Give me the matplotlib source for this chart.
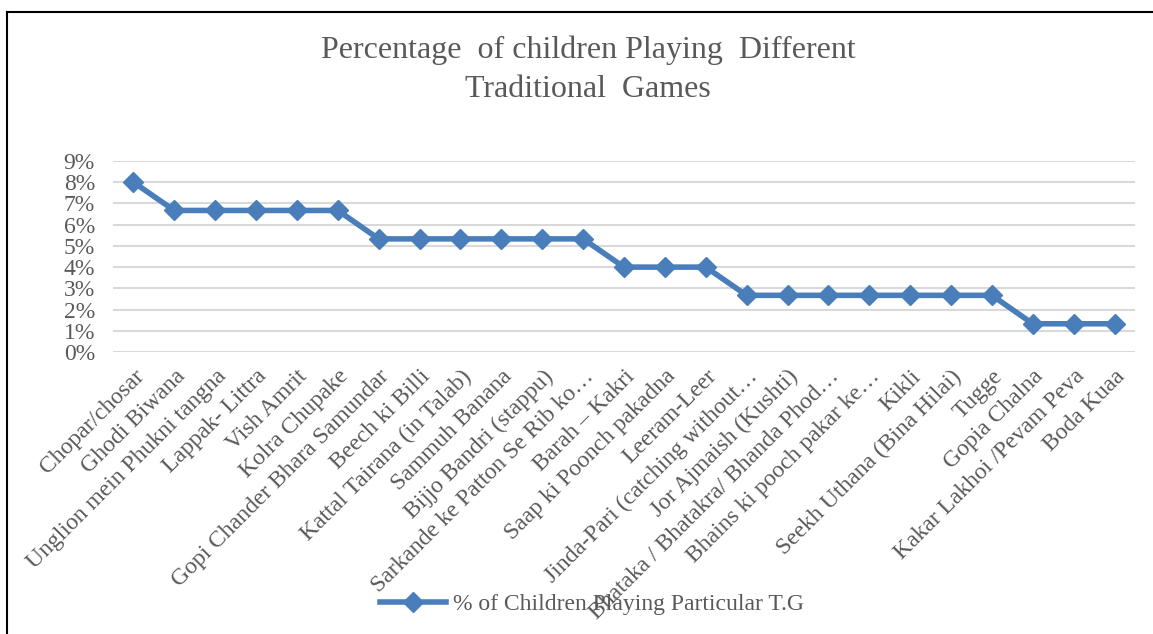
import matplotlib.pyplot as plt
from matplotlib.lines import Line2D
from matplotlib.ticker import FuncFormatter

# Data
games = [
    'Chopar/chosar', 'Ghodi Biwana', 'Unglion mein Phukni tangna', 'Lappak- Littra',
    'Vish Amrit', 'Kolra Chupake', 'Gopi Chander Bhara Samundar', 'Beech ki Billi',
    'Kattal Tairana (in Talab)', 'Sammuh Banana', 'Bijjo Bandri (stappu)',
    'Sarkande ke Patton Se Rib ko…', 'Barah – Kakri', 'Saap ki Poonch pakadna',
    'Leeram-Leer', 'Jinda-Pari (catching without…', 'Jor Ajmaish (Kushti)',
    'Bhataka / Bhatakra/ Bhanda Phod…', 'Bhains ki pooch pakar ke…', 'Kikli',
    'Seekh Uthana (Bina Hilai)', 'Tugge', 'Gopia Chalna', 'Kakar Lakhoi /Pevam Peva',
    'Boda Kuaa',
]
pct = [8.0, 6.67, 6.67, 6.67, 6.67, 6.67, 5.33, 5.33, 5.33, 5.33, 5.33, 5.33,
       4.0, 4.0, 4.0, 2.67, 2.67, 2.67, 2.67, 2.67, 2.67, 2.67, 1.33, 1.33, 1.33]

plt.rcParams['font.family'] = ['Liberation Serif', 'DejaVu Serif']
grey = '#595959'
blue = '#4A7EBB'

W, H = 1153, 634
fig = plt.figure(figsize=(W / 100, H / 100), dpi=100)
ax = fig.add_axes([113 / W, 1 - 352 / H, (1135 - 113) / W, (352 - 161) / H])

x = list(range(len(games)))
ax.plot(x, pct, color=blue, linewidth=4, marker='D', markersize=10,
        label='% of Children Playing Particular T.G', zorder=3)

ax.set_xlim(-0.5, len(games) - 0.5)
ax.set_ylim(0, 9)
ax.set_yticks(range(0, 10))
ax.yaxis.set_major_formatter(FuncFormatter(lambda v, p: f'{int(v)}%'))
ax.grid(axis='y', color='#D9D9D9', linewidth=1.5)
ax.set_axisbelow(True)
for s in ax.spines.values():
    s.set_visible(False)
ax.tick_params(axis='both', length=0, colors=grey, labelsize=17)
ax.tick_params(axis='y', pad=13)
ax.set_xticks(x)
ax.set_xticklabels(games, rotation=45, ha='right', rotation_mode='anchor')
ax.tick_params(axis='x', pad=10)

fig.text(588 / W, 1 - 70 / H, 'Percentage  of children Playing  Different\nTraditional  Games',
         ha='center', va='center', fontsize=23, color=grey, linespacing=1.45)

fig.legend(loc='center', bbox_to_anchor=(592 / W, 1 - 604 / H), frameon=False,
           fontsize=17, labelcolor=grey, handlelength=2.8, handletextpad=0.3)

# outer frame lines
fig.add_artist(Line2D([6.5 / W, 1], [1 - 12 / H, 1 - 12 / H], color='black', linewidth=1.5))
fig.add_artist(Line2D([6.5 / W, 6.5 / W], [0, 1 - 12 / H], color='black', linewidth=1.5))

fig.savefig('out.png', dpi=100, facecolor='white')
